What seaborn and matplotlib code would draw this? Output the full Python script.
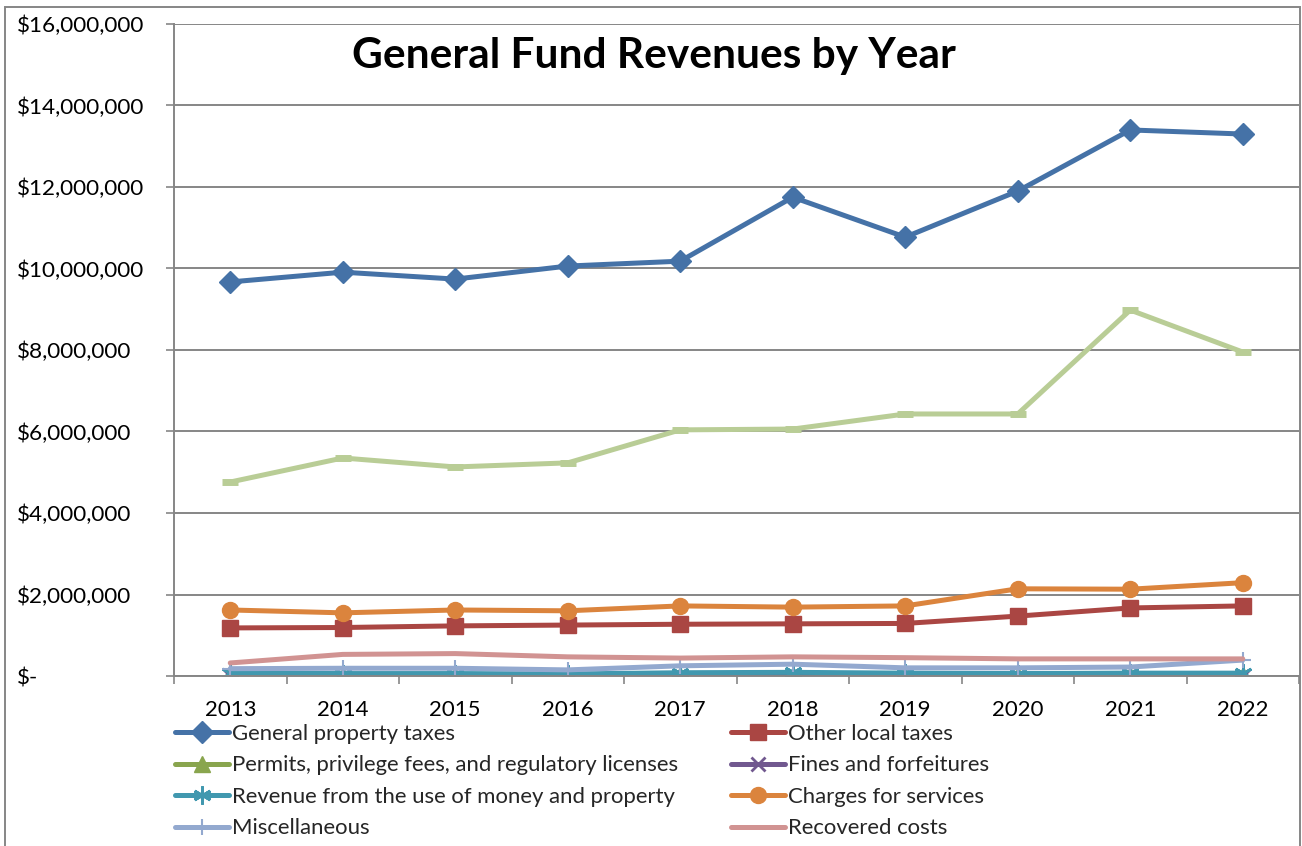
import matplotlib
matplotlib.use("Agg")
import matplotlib.pyplot as plt
from matplotlib.patches import Rectangle
from matplotlib.ticker import FixedLocator, FuncFormatter
import numpy as np
import pandas as pd
import seaborn as sns

years = [2013, 2014, 2015, 2016, 2017, 2018, 2019, 2020, 2021, 2022]

general_property_taxes = [9670000, 9910000, 9740000, 10060000, 10180000, 11750000, 10770000, 11900000, 13400000, 13300000]
other_local_taxes = [1180000, 1190000, 1230000, 1250000, 1270000, 1280000, 1290000, 1470000, 1670000, 1720000]
permits_fees_licenses = [20000, 20000, 20000, 20000, 20000, 20000, 20000, 20000, 20000, 20000]
fines_forfeitures = [10000, 10000, 10000, 10000, 10000, 10000, 10000, 10000, 10000, 10000]
use_of_money_property = [70000, 60000, 60000, 50000, 80000, 90000, 70000, 60000, 70000, 70000]
charges_for_services = [1620000, 1550000, 1620000, 1600000, 1720000, 1690000, 1720000, 2140000, 2130000, 2290000]
miscellaneous = [180000, 190000, 190000, 150000, 250000, 290000, 200000, 200000, 220000, 390000]
recovered_costs = [320000, 530000, 550000, 470000, 440000, 470000, 450000, 420000, 420000, 420000]
commonwealth_revenue = [4760000, 5350000, 5130000, 5230000, 6040000, 6060000, 6430000, 6430000, 8980000, 7950000]

series_names = [
    "General property taxes",
    "Other local taxes",
    "Permits, privilege fees, and regulatory licenses",
    "Fines and forfeitures",
    "Revenue from the use of money and property",
    "Charges for services",
    "Miscellaneous",
    "Recovered costs",
    "Revenue from the Commonwealth",
]
series_values = [
    general_property_taxes, other_local_taxes, permits_fees_licenses,
    fines_forfeitures, use_of_money_property, charges_for_services,
    miscellaneous, recovered_costs, commonwealth_revenue,
]
y_ticks = [0, 2000000, 4000000, 6000000, 8000000, 10000000, 12000000, 14000000, 16000000]

rows = []
for name, vals in zip(series_names, series_values):
    for yr, v in zip(years, vals):
        rows.append({"series": name, "year": yr, "value": v})
df = pd.DataFrame(rows)

sns.set_theme(style="white")
plt.rcParams["font.family"] = ["Lato", "DejaVu Sans"]

W, H = 1302, 846
fig = plt.figure(figsize=(W / 100, H / 100), dpi=100)
ax = fig.add_axes([174 / W, 1 - 676 / H, (1299 - 174) / W, (676 - 24) / H])

styles = {
    "General property taxes": dict(color="#4572A7", marker="D", ms=11),
    "Other local taxes": dict(color="#AA4643", marker="s", ms=11.5),
    "Permits, privilege fees, and regulatory licenses": dict(color="#89A54E", marker="^", ms=12),
    "Fines and forfeitures": dict(color="#71588F", marker="x", ms=10, mew=2),
    "Revenue from the use of money and property": dict(color="#4198AF", marker=(6, 2, 0), ms=13, mew=2),
    "Charges for services": dict(color="#DB843D", marker="o", ms=11.5),
    "Miscellaneous": dict(color="#93A9CF", marker="+", ms=11, mew=1.5),
    "Recovered costs": dict(color="#D19392", marker=None, ms=0),
    "Revenue from the Commonwealth": dict(color="#B9CD96", marker="_", ms=12, mew=5),
}

for name in series_names:
    st = styles[name]
    sub = df[df["series"] == name]
    kw = dict(color=st["color"], lw=3.6, ax=ax, legend=False, solid_joinstyle="round")
    if st["marker"] is not None:
        kw.update(marker=st["marker"], markersize=st["ms"],
                  markeredgecolor=st["color"], markerfacecolor=st["color"],
                  markeredgewidth=st.get("mew", 1))
    sns.lineplot(data=sub, x="year", y="value", **kw)

ax.set_xlim(2012.5, 2022.5)
ax.set_ylim(0, 16000000)

# y axis: gridlines every $2M, accounting-style labels
ax.yaxis.set_major_locator(FixedLocator(y_ticks))
ax.yaxis.set_major_formatter(FuncFormatter(lambda v, p: "$-" if v == 0 else f"${v:,.0f}"))
ax.grid(axis="y", color="#868686", lw=1.4)
ax.set_axisbelow(True)

# x axis: labels at years, tick marks between categories
ax.xaxis.set_major_locator(FixedLocator(years))
ax.xaxis.set_minor_locator(FixedLocator(np.arange(2012.5, 2023, 1.0)))
ax.tick_params(axis="x", which="major", length=0, pad=17, labelsize=16, colors="black")
ax.tick_params(axis="x", which="minor", length=6, width=1.2, color="#868686", bottom=True)
ax.tick_params(axis="y", which="major", length=6, width=1.2, color="#868686", left=True,
               labelsize=16.2, labelcolor="black", pad=107)
for lab in ax.get_yticklabels():
    lab.set_horizontalalignment("left")

for side in ("top", "right"):
    ax.spines[side].set_visible(False)
for side in ("left", "bottom"):
    ax.spines[side].set_color("#868686")
    ax.spines[side].set_linewidth(1.4)

ax.set_xlabel("")
ax.set_ylabel("")

fig.text(654 / W, 1 - 56 / H, "General Fund Revenues by Year", ha="center", va="center",
         fontsize=30.5, fontweight="bold", color="black")

handles = ax.get_lines()[:8]
order = [0, 2, 4, 6, 1, 3, 5, 7]
leg = fig.legend([handles[i] for i in order], [series_names[i] for i in order],
                 loc="upper left", bbox_to_anchor=(175 / W, 1 - 724 / H), ncol=2,
                 frameon=False, fontsize=15.9, handlelength=2.45, handletextpad=0.12,
                 columnspacing=2.4, labelspacing=0.52, borderaxespad=0, borderpad=0)

fig.add_artist(Rectangle((5 / W, -0.05), (1300 - 5) / W, 1.05 - 7 / H,
                         transform=fig.transFigure, fill=False,
                         edgecolor="#868686", lw=1.4))

fig.savefig("out.png", dpi=100, facecolor="white")
